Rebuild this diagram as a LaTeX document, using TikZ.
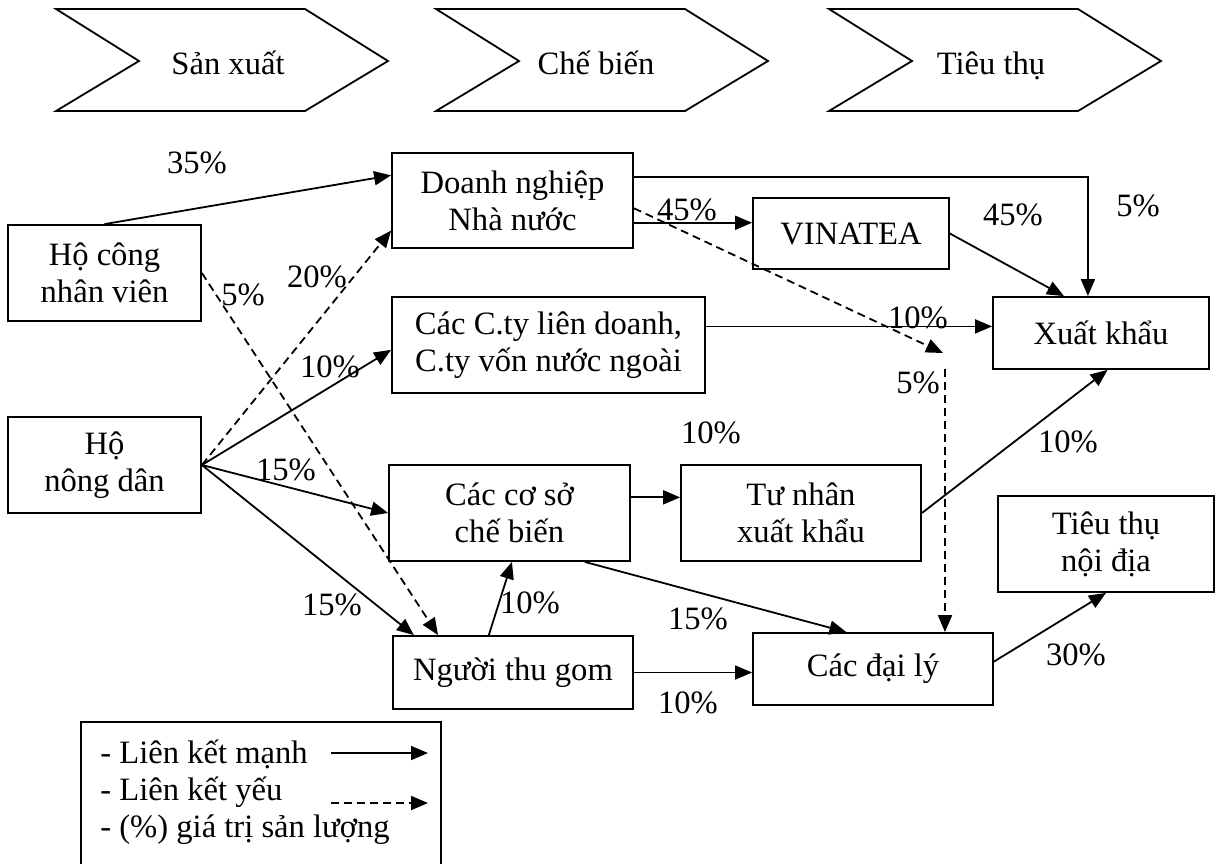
\documentclass[tikz,border=0pt]{standalone}
\usepackage{fontspec}
\setmainfont{Liberation Serif}
\usetikzlibrary{arrows.meta,calc,positioning}
\tikzstyle{unit} = [draw,line width=0.9pt,align=center,inner sep=0pt]
\tikzstyle{strong} = [line width=0.9pt,-{Triangle[length=8.5pt,width=7pt]}]
\tikzstyle{weak} = [strong,dash pattern=on 4pt off 2.5pt]
\tikzstyle{pct} = [inner sep=0.5pt]
\tikzstyle{stage} = [draw,line width=0.9pt,line join=miter]

\begin{document}
\begin{tikzpicture}[x=0.5pt,y=-0.5pt,font=\fontsize{16.3pt}{18.4pt}\selectfont]
      \useasboundingbox (0,0) rectangle (1221,863);

      \foreach \l/\c/\t [count=\i] in {56/228/Sản xuất,436/596/Chế biến,829/991/Tiêu thụ}{
            \draw[stage] (\l,9) -- ++(249,0) -- ++(83,52) -- ++(-83,50) -- ++(-249,0) -- ++(83,-50) -- cycle;
            \node (stage\i)[anchor=base] at (\c,74) {\t};
      }

      \node (hcnv)[unit,minimum width=96.5pt,minimum height=48pt] at (104.5,273) {Hộ công\\nhân viên};
      \node (hnd)[unit,minimum width=96.5pt,minimum height=48pt] at (104.5,465) {Hộ\\nông dân};
      \node (dnnn)[unit,minimum width=120.5pt,minimum height=47.5pt] at (512.5,200.5) {Doanh nghiệp\\Nhà nước};
      \node (vinatea)[unit,minimum width=98pt,minimum height=35.5pt] at (851,233.5) {VINATEA};
      \node (cty)[unit,minimum width=156.5pt,minimum height=48pt] at (548.5,345) {Các C.ty liên doanh,\\C.ty vốn nước ngoài};
      \node (xk)[unit,minimum width=108pt,minimum height=36pt] at (1101,333) {Xuất khẩu};
      \node (coso)[unit,minimum width=120.5pt,minimum height=48pt] at (509.5,513) {Các cơ sở\\chế biến};
      \node (tunhan)[unit,minimum width=120pt,minimum height=48pt] at (801,513) {Tư nhân\\xuất khẩu};
      \node (ttnd)[unit,minimum width=108pt,minimum height=48pt] at (1106,544) {Tiêu thụ\\nội địa};
      \node (thugom)[unit,minimum width=120pt,minimum height=36.5pt] at (513,672.5) {Người thu gom};
      \node (daily)[unit,minimum width=120pt,minimum height=36pt] at (873,669) {Các đại lý};

      \coordinate (dv) at ($(dnnn.north east)!0.73!(dnnn.south east)$);
      \coordinate (cx) at ($(cty.north east)!0.31!(cty.south east)$);
      \coordinate (ct) at ($(coso.north east)!0.34!(coso.south east)$);
      \coordinate (bend) at (943,353);
      \coordinate (restart) at (945,369);

      \draw[strong] (hcnv.north) -- ($(dnnn.north west)!0.24!(dnnn.south west)$);
      \draw[weak] (hnd.east) -- ($(dnnn.north west)!0.81!(dnnn.south west)$);
      \draw[strong] (hnd.east) -- ($(cty.north west)!0.55!(cty.south west)$);
      \draw[strong] (hnd.east) -- (coso.west);
      \draw[strong] (hnd.east) -- ($(thugom.north west)!0.09!(thugom.north east)$);
      \draw[weak] (hcnv.east) -- ($(thugom.north west)!0.19!(thugom.north east)$);
      \draw[strong] (dv) -- (dv -| vinatea.west);
      \draw[strong] ($(dnnn.north east)!0.26!(dnnn.south east)$) -| ($(xk.north west)!0.44!(xk.north east)$);
      \draw[strong] (vinatea.east) -- ($(xk.north west)!0.33!(xk.north east)$);
      \draw[strong] (cx) -- (cx -| xk.west);
      \draw[weak] ($(dnnn.north east)!0.58!(dnnn.south east)$) -- (bend);
      \draw[weak] (restart) -- (restart |- daily.north);
      \draw[strong] (ct) -- (ct -| tunhan.west);
      \draw[strong] (tunhan.east) -- ($(xk.south west)!0.53!(xk.south east)$);
      \draw[strong] ($(coso.south west)!0.81!(coso.south east)$) -- ($(daily.north west)!0.39!(daily.north east)$);
      \draw[strong] ($(thugom.north west)!0.4!(thugom.north east)$) -- ($(coso.south west)!0.51!(coso.south east)$);
      \draw[strong] (thugom.east) -- (thugom.east -| daily.west);
      \draw[strong] ($(daily.north east)!0.4!(daily.south east)$) -- (ttnd.south);

      \node (p35)[pct] at (197,163) {35\%};
      \node (p20)[pct] at (317,277) {20\%};
      \node (p5a)[pct] at (243,295) {5\%};
      \node (p10a)[pct] at (330,367) {10\%};
      \node (p15a)[pct] at (286,470) {15\%};
      \node (p15b)[pct] at (332,605) {15\%};
      \node (p45a)[pct] at (687,210) {45\%};
      \node (p45b)[pct] at (1013,215) {45\%};
      \node (p5b)[pct] at (1138,206) {5\%};
      \node (p10b)[pct] at (918,318) {10\%};
      \node (p5c)[pct] at (918,383) {5\%};
      \node (p10c)[pct] at (711,433) {10\%};
      \node (p10d)[pct] at (1068,442) {10\%};
      \node (p10e)[pct] at (530,603) {10\%};
      \node (p15c)[pct] at (698,619) {15\%};
      \node (p10f)[pct] at (688,703) {10\%};
      \node (p30)[pct] at (1076,655) {30\%};

      \draw[line width=0.9pt] (81,870) -- (81,722) -- (441,722) -- (441,870);
      \node (leg1)[anchor=base west,inner sep=0pt] at (100,763) {- Liên kết mạnh};
      \node (leg2)[anchor=base west,inner sep=0pt] at (100,800) {- Liên kết yếu};
      \node (leg3)[anchor=base west,inner sep=0pt] at (100,837) {- (\%) giá trị sản lượng};
      \coordinate (s1) at (331,753);
      \coordinate (s2) at (428,753);
      \coordinate (w1) at (331,803);
      \coordinate (w2) at (428,803);
      \draw[strong] (s1) -- (s2);
      \draw[weak] (w1) -- (w2);
\end{tikzpicture}
\end{document}
